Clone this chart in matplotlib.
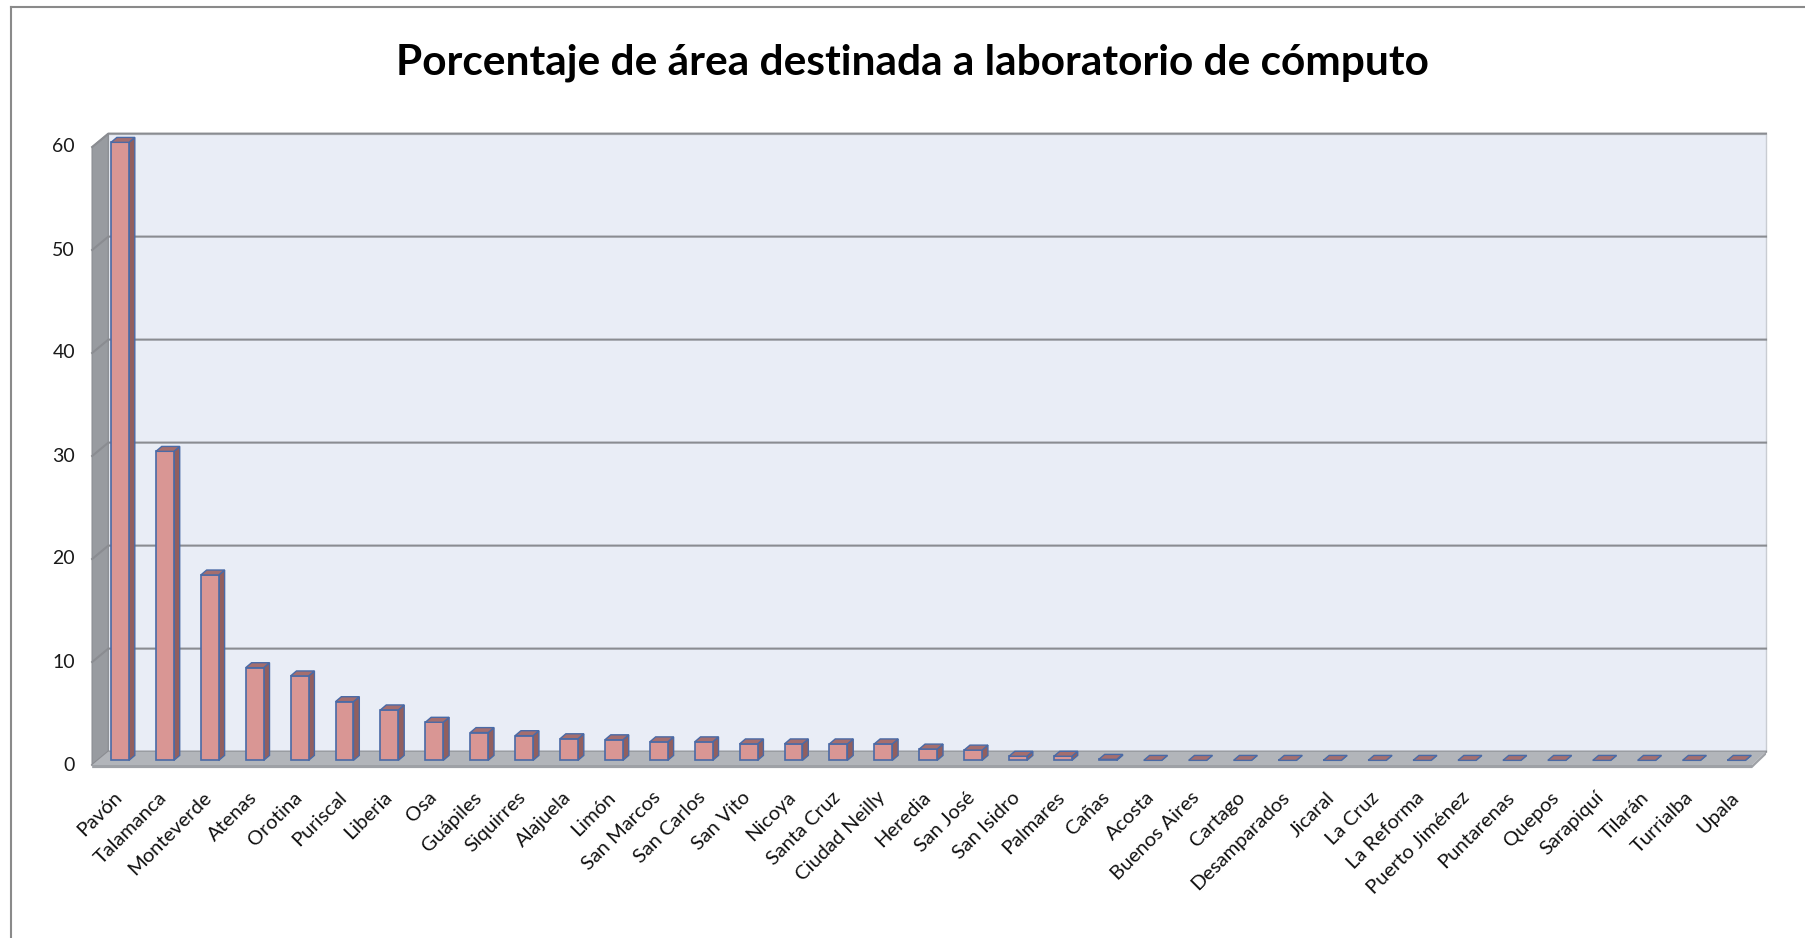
import matplotlib
matplotlib.use("Agg")
import matplotlib.pyplot as plt
from matplotlib.patches import Polygon
from matplotlib.lines import Line2D

plt.rcParams['font.family'] = ['Lato', 'DejaVu Sans']

# data (% of area for computer lab)
sedes = ["Pavón", "Talamanca", "Monteverde", "Atenas", "Orotina", "Puriscal",
         "Liberia", "Osa", "Guápiles", "Siquirres", "Alajuela", "Limón",
         "San Marcos", "San Carlos", "San Vito", "Nicoya", "Santa Cruz",
         "Ciudad Neilly", "Heredia", "San José", "San Isidro", "Palmares",
         "Cañas", "Acosta", "Buenos Aires", "Cartago", "Desamparados",
         "Jicaral", "La Cruz", "La Reforma", "Puerto Jiménez", "Puntarenas",
         "Quepos", "Sarapiquí", "Tilarán", "Turrialba", "Upala"]
porcentaje = [60.0, 30.0, 18.0, 9.0, 8.2, 5.7, 4.9, 3.7, 2.7, 2.4, 2.1, 2.0,
              1.8, 1.8, 1.6, 1.6, 1.6, 1.6, 1.1, 1.0, 0.4, 0.4, 0.1, 0, 0, 0,
              0, 0, 0, 0, 0, 0, 0, 0, 0, 0, 0]
yticks = [0, 10, 20, 30, 40, 50, 60]
titulo = "Porcentaje de área destinada a laboratorio de cómputo"

W, H = 1805, 938
# pixel geometry of the front plane
x0_px, step_px = 120, 44.9     # centre of first category, spacing
y0_px, unit_px = 765, 10.3     # value 0 and pixels per unit
xlo, xhi = -2.6, 37.5
ylo, yhi = -16.5, 64.0

DX, DXr, DY = 0.36, 0.31, 1.3   # wall depth in data units (left / right)
bx, by = 0.13, 0.48             # bar depth
bw = 0.40
base = 0.45                     # bars sit mid-floor
xw0 = -0.62                     # front edge of left wall
xw1 = len(sedes) - 1 + 0.35     # front edge of floor, right end
ytop = max(yticks)

fig = plt.figure(figsize=(W / 100, H / 100), dpi=100)
left = (x0_px + xlo * step_px) / W
right = (x0_px + xhi * step_px) / W
bottom = 1 - (y0_px - ylo * unit_px) / H
top = 1 - (y0_px - yhi * unit_px) / H
ax = fig.add_axes([left, bottom, right - left, top - bottom])
ax.set_xlim(xlo, xhi)
ax.set_ylim(ylo, yhi)
ax.axis("off")

# back wall
ax.add_patch(Polygon([(xw0 + DX, DY), (xw1 + DXr, DY), (xw1 + DXr, ytop + DY),
                      (xw0 + DX, ytop + DY)], closed=True,
                     facecolor="#e9edf6", edgecolor="#c9ccd2", lw=1, zorder=1))
# left wall
ax.add_patch(Polygon([(xw0, 0), (xw0 + DX, DY), (xw0 + DX, ytop + DY),
                      (xw0, ytop)], closed=True,
                     facecolor="#989ba0", edgecolor="#8d9095", lw=1, zorder=1))
# gridlines on back wall + left wall
for v in yticks:
    ax.plot([xw0, xw0 + DX, xw1 + DXr], [v, v + DY, v + DY],
            color="#8a8c91", lw=1.5, zorder=2)
# floor
ax.add_patch(Polygon([(xw0, 0), (xw1, 0), (xw1 + DXr, DY), (xw0 + DX, DY)],
                     closed=True, facecolor="#b2b5ba", edgecolor="none",
                     zorder=3))
ax.add_patch(Polygon([(xw0, -0.3), (xw1, -0.3), (xw1 + DXr, DY - 0.3),
                      (xw1 + DXr, DY), (xw1, 0), (xw0, 0)], closed=True,
                     facecolor="#9ea1a6", edgecolor="none", zorder=3))

# bars: front face through ax.bar, side and top faces as polygons
xs = list(range(len(sedes)))
edge = "#4a6aa6"
ax.bar(xs, porcentaje, width=bw, bottom=base, color="#d99694",
       edgecolor=edge, lw=1.2, zorder=5)
for x, v in zip(xs, porcentaje):
    xr, xl = x + bw / 2, x - bw / 2
    yt = base + v
    ax.add_patch(Polygon([(xr, base), (xr + bx, base + by), (xr + bx, yt + by),
                          (xr, yt)], closed=True, facecolor="#925f5f",
                         edgecolor=edge, lw=1.0, zorder=4))
    ax.add_patch(Polygon([(xl, yt), (xr, yt), (xr + bx, yt + by),
                          (xl + bx, yt + by)], closed=True, facecolor="#a56e6e",
                         edgecolor=edge, lw=1.0, zorder=6))

# y tick labels on the front plane
for v in yticks:
    ax.text(xw0 - 0.38, v, str(v), ha="right", va="center", fontsize=14,
            color="#1a1a1a")

# category labels
for x, s in zip(xs, sedes):
    ax.text(x - 0.15, -2.3, s, rotation=45, rotation_mode="anchor",
            ha="right", va="top", fontsize=14.5, color="#111111")

fig.text(912 / W, 1 - 63 / H, titulo, ha="center", va="center",
         fontsize=30.5, fontweight="bold", color="black")

# outer chart border
fig.add_artist(Line2D([11 / W, 1], [1 - 7 / H, 1 - 7 / H], color="#8a8a8a",
                      lw=1.5))
fig.add_artist(Line2D([11 / W, 11 / W], [0, 1 - 7 / H], color="#8a8a8a",
                      lw=1.5))

fig.savefig("out.png", dpi=100)
